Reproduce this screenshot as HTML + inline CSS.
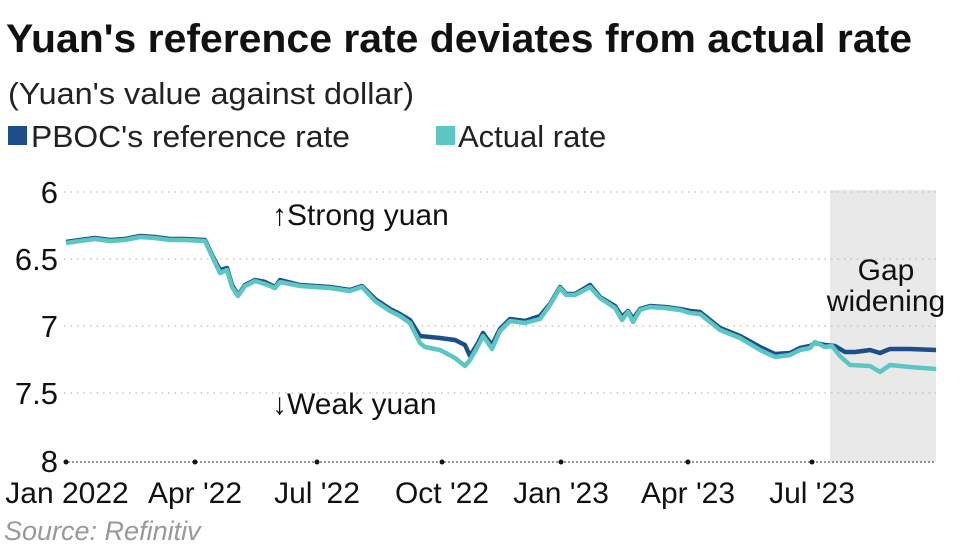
<!DOCTYPE html>
<html><head><meta charset="utf-8"><style>
body{margin:0;background:#fff;width:974px;height:550px;overflow:hidden;font-family:"Liberation Sans",sans-serif}
</style></head><body>
<svg width="974" height="550" xmlns="http://www.w3.org/2000/svg" font-family="Liberation Sans, sans-serif">
<text x="6" y="52" font-size="40" font-weight="bold" fill="#111" textLength="906" lengthAdjust="spacingAndGlyphs">Yuan's reference rate deviates from actual rate</text>
<text x="8" y="104" font-size="31" fill="#222" textLength="406" lengthAdjust="spacingAndGlyphs">(Yuan's value against dollar)</text>
<rect x="8" y="126" width="19" height="19" fill="#1d4e89"/>
<text x="31" y="147" font-size="31" fill="#222" textLength="319" lengthAdjust="spacingAndGlyphs">PBOC's reference rate</text>
<rect x="436" y="126" width="19" height="19" fill="#5cc6c2"/>
<text x="458" y="147" font-size="31" fill="#222">Actual rate</text>
<rect x="830" y="190" width="106" height="272" fill="#e9e9e9"/>
<g stroke="#bbb" stroke-width="1.2" stroke-dasharray="1.5 5">
<line x1="64" y1="192" x2="936" y2="192"/><line x1="64" y1="259" x2="936" y2="259"/>
<line x1="64" y1="326" x2="936" y2="326"/><line x1="64" y1="393" x2="936" y2="393"/>
</g>
<line x1="64" y1="462" x2="936" y2="462" stroke="#333" stroke-width="1" stroke-dasharray="2 2"/>
<g fill="#111"><circle cx="66" cy="462" r="2.5"/><circle cx="195" cy="462" r="2.5"/><circle cx="317" cy="462" r="2.5"/><circle cx="442" cy="462" r="2.5"/><circle cx="561" cy="462" r="2.5"/><circle cx="688" cy="462" r="2.5"/><circle cx="812" cy="462" r="2.5"/></g>
<g font-size="31" fill="#111" text-anchor="end">
<text x="58" y="203">6</text><text x="58" y="270">6.5</text><text x="58" y="337">7</text><text x="58" y="404">7.5</text><text x="58" y="472">8</text>
</g>
<g font-size="30" fill="#111" text-anchor="middle">
<text x="67" y="503">Jan 2022</text><text x="195" y="503">Apr '22</text><text x="317" y="503">Jul '22</text><text x="442" y="503">Oct '22</text><text x="561" y="503">Jan '23</text><text x="688" y="503">Apr '23</text><text x="812" y="503">Jul '23</text>
</g>
<text x="272" y="225" font-size="30" fill="#111">↑Strong yuan</text>
<text x="272" y="414" font-size="30" fill="#111">↓Weak yuan</text>
<text x="886" y="280" font-size="30" fill="#111" text-anchor="middle">Gap</text>
<text x="886" y="311" font-size="30" fill="#111" text-anchor="middle">widening</text>
<text x="4" y="540" font-size="27" font-style="italic" fill="#999">Source: Refinitiv</text>
<polyline fill="none" stroke="#1d4e89" stroke-width="4.5" stroke-linejoin="round" points="66,242 80,240 95,238 110,240 125,239 140,236 155,237 170,239 185,239 205,240 212,255 220,270 227,268 232,285 238,295 245,285 255,280 265,282 275,287 280,280 300,285 330,287 350,290 362,286 375,299 390,309 400,314 410,320 420,336 440,338 455,340 465,345 470,356 478,343 483,333 488,340 492,345 500,329 510,319 525,321 540,316 550,304 560,287 566,294 575,294 590,285 600,297 615,306 622,317 628,311 633,319 640,309 650,306 665,307 680,309 690,311 700,312 720,328 740,336 760,347 775,354 790,353 800,348 810,346 815,343 825,345 835,346 845,352 855,352 870,350 880,353 890,349 910,349 936,350"/>
<polyline fill="none" stroke="#5cc6c2" stroke-width="4.5" stroke-linejoin="round" points="66,243 80,241 95,239 110,241 125,240 140,237 155,238 170,240 185,240 205,241 212,256 220,273 227,270 232,287 238,296 245,286 255,281 265,284 275,288 280,282 300,286 330,288 350,291 362,287 375,301 390,311 400,316 410,323 420,343 425,347 440,350 455,358 465,366 470,360 478,346 483,336 488,343 492,349 500,331 510,321 525,323 540,319 550,305 560,288 566,295 575,295 590,287 600,298 615,308 622,320 628,312 633,322 640,310 650,307 665,308 680,310 690,313 700,314 720,330 740,338 760,350 775,357 790,355 800,350 810,348 815,342 825,347 832,346 840,356 850,365 870,366 880,372 890,365 910,367 936,369"/>
</svg>
</body></html>
